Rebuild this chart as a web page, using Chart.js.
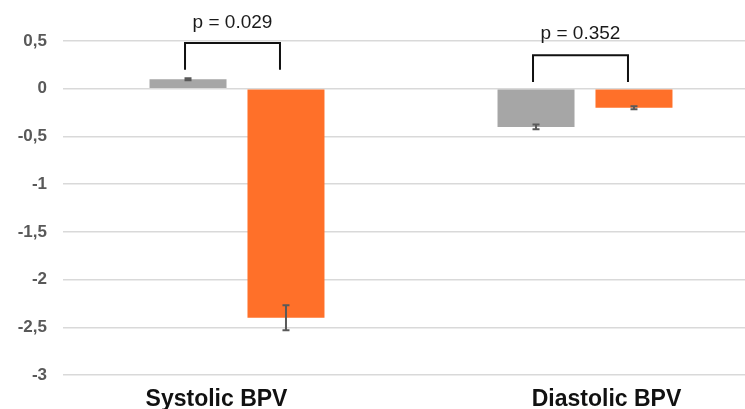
<!DOCTYPE html>
<html>
<head>
<meta charset="utf-8">
<script src="https://cdn.jsdelivr.net/npm/chart.js@4"></script>
<style>
  html, body { margin: 0; padding: 0; background: #fff; overflow: hidden; }
  #wrap { width: 760px; height: 409px; }
</style>
</head>
<body>
<div id="wrap"><canvas id="myChart"></canvas></div>
<script>
const categories = ["Systolic BPV", "Diastolic BPV"];
const greyValues = [0.1, -0.4];
const orangeValues = [-2.4, -0.2];
const greyErrors = [0.01, 0.025];
const orangeErrors = [0.13, 0.015];
const yTicks = [0.5, 0, -0.5, -1, -1.5, -2, -2.5, -3];

// significance brackets (values in y units)
const pLabels = ["p = 0.029", "p = 0.352"];
const bracketTop = [0.48, 0.35];
const bracketFoot = [0.2, 0.07];
const pLabelY = [0.69, 0.575];

const errorBars = {
  id: "errorBars",
  afterDatasetsDraw(chart) {
    const ctx = chart.ctx;
    const y = chart.scales.y;
    const errs = [greyErrors, orangeErrors];
    ctx.save();
    ctx.strokeStyle = "#595959";
    ctx.lineWidth = 2;
    chart.data.datasets.forEach((ds, di) => {
      chart.getDatasetMeta(di).data.forEach((bar, i) => {
        const v = ds.data[i];
        const e = errs[di][i];
        const top = y.getPixelForValue(v + e);
        const bot = y.getPixelForValue(v - e);
        ctx.beginPath();
        ctx.moveTo(bar.x, top); ctx.lineTo(bar.x, bot);
        ctx.moveTo(bar.x - 3.5, top); ctx.lineTo(bar.x + 3.5, top);
        ctx.moveTo(bar.x - 3.5, bot); ctx.lineTo(bar.x + 3.5, bot);
        ctx.stroke();
      });
    });

    // brackets + p values
    ctx.strokeStyle = "#111";
    ctx.lineWidth = 2;
    ctx.fillStyle = "#1a1a1a";
    ctx.font = "19px 'Liberation Sans', Arial, sans-serif";
    ctx.textAlign = "center";
    ctx.textBaseline = "middle";
    categories.forEach((c, i) => {
      const a = chart.getDatasetMeta(0).data[i].x - 3;
      const b = chart.getDatasetMeta(1).data[i].x - 6;
      const t = y.getPixelForValue(bracketTop[i]);
      const f = y.getPixelForValue(bracketFoot[i]);
      ctx.beginPath();
      ctx.moveTo(a, f); ctx.lineTo(a, t); ctx.lineTo(b, t); ctx.lineTo(b, f);
      ctx.stroke();
      ctx.fillText(pLabels[i], (a + b) / 2, y.getPixelForValue(pLabelY[i]));
    });

    // category labels (slightly off-centre in the original)
    const x = chart.scales.x;
    const shift = [-20.5, 21.5];
    ctx.fillStyle = "#111";
    ctx.font = "bold 23px 'Liberation Sans', Arial, sans-serif";
    ctx.textBaseline = "alphabetic";
    categories.forEach((c, i) => {
      ctx.fillText(c, x.getPixelForValue(i) + shift[i], 406);
    });
    ctx.restore();
  }
};

new Chart(document.getElementById("myChart"), {
  type: "bar",
  data: {
    labels: categories,
    datasets: [
      { label: "Group 1", data: greyValues, backgroundColor: "#a6a6a6",
        categoryPercentage: 0.563, barPercentage: 0.786 },
      { label: "Group 2", data: orangeValues, backgroundColor: "#ff7029",
        categoryPercentage: 0.563, barPercentage: 0.786 }
    ]
  },
  options: {
    responsive: true,
    maintainAspectRatio: false,
    animation: false,
    layout: { padding: { top: 41, bottom: 34, right: 1, left: 0 } },
    plugins: { legend: { display: false }, tooltip: { enabled: false } },
    scales: {
      x: { display: false },
      y: {
        min: -3,
        max: 0.5,
        afterFit(scale) { scale.width = 63; },
        afterBuildTicks(scale) { scale.ticks = yTicks.map(v => ({ value: v })); },
        border: { display: false },
        grid: { color: "#d9d9d9", lineWidth: 1.5, drawTicks: false },
        ticks: {
          padding: 16,
          color: "#595959",
          font: { family: "'Liberation Sans', Arial, sans-serif", size: 17, weight: "bold" },
          callback: (v) => String(v).replace(".", ",")
        }
      }
    }
  },
  plugins: [errorBars]
});
</script>
</body>
</html>
